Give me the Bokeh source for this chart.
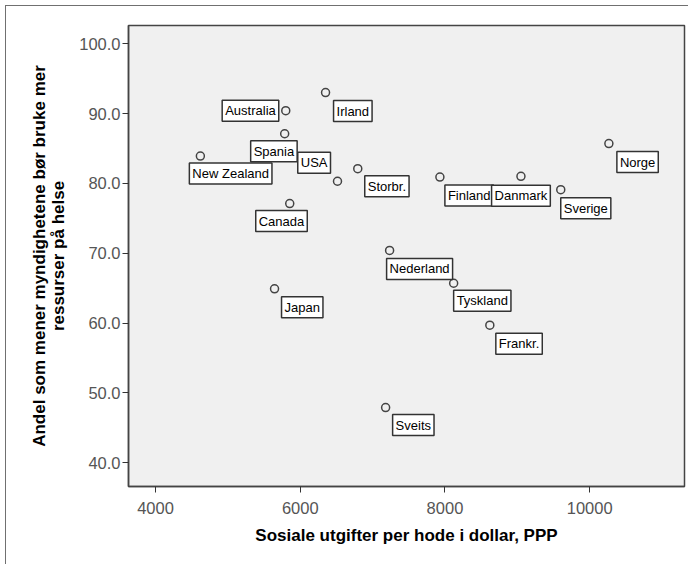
from bokeh.plotting import figure
from bokeh.models import ColumnDataSource, FixedTicker, NumeralTickFormatter, Range1d
from bokeh.core.properties import value
from bokeh.embed import file_html
from bokeh.resources import INLINE

# ---- data ----
countries = ["Irland", "Australia", "Spania", "New Zealand", "USA", "Storbr.", "Canada",
             "Finland", "Danmark", "Sverige", "Norge", "Nederland", "Japan", "Tyskland",
             "Frankr.", "Sveits"]
spending = [6350, 5800, 5785, 4620, 6515, 6795, 5855,
            7930, 9050, 9600, 10265, 7235, 5645, 8120,
            8620, 7180]
share = [93.0, 90.4, 87.1, 83.9, 80.3, 82.1, 77.1,
         80.9, 81.0, 79.1, 85.7, 70.4, 64.9, 65.7,
         59.7, 47.9]
x_ticks = [4000, 6000, 8000, 10000]
y_ticks = [40, 50, 60, 70, 80, 90, 100]

# ---- label placement (styling, screen px; dy positive = down) ----
PAD = 3
placement = {
    "Irland": ("left", "top", 5, 5),
    "Australia": ("right", "middle", -4, 0),
    "Spania": ("left", "top", -37, 4),
    "New Zealand": ("left", "top", -14, 4),
    "USA": ("right", "bottom", -4, -5),
    "Storbr.": ("left", "top", 4, 4),
    "Canada": ("left", "top", -37, 4),
    "Finland": ("left", "top", 2, 5),
    "Danmark": ("center", "top", 0, 6),
    "Sverige": ("left", "top", -3, 5),
    "Norge": ("left", "top", 5, 5),
    "Nederland": ("left", "top", -6, 5),
    "Japan": ("left", "top", 4, 5),
    "Tyskland": ("left", "top", -3, 4),
    "Frankr.": ("left", "top", 3, 5),
    "Sveits": ("left", "top", 4, 4),
}
aligns, baselines, xo, yo = [], [], [], []
for c in countries:
    a, b, dx, dy = placement[c]
    aligns.append(a)
    baselines.append(b)
    xo.append(dx + (PAD if a == "left" else (-PAD if a == "right" else 0)))
    yo.append(dy + (PAD if b == "top" else (-PAD if b == "bottom" else 0)))

src = ColumnDataSource(dict(x=spending, y=share, name=countries,
                            align=aligns, base=baselines, xo=xo, yo=yo))

p = figure(width=683, height=559, output_backend="svg", toolbar_location=None,
           x_range=Range1d(3627, 11310), y_range=Range1d(36.6, 102.6),
           min_border_left=122, min_border_right=5, min_border_top=19, min_border_bottom=79)

p.background_fill_color = "#F0F0F0"
p.border_fill_color = "white"
p.outline_line_color = "#444444"
p.outline_line_width = 1.5
p.grid.visible = False
p.styles = {"margin-left": "5px", "margin-top": "5px",
            "border-top": "1px solid #707070", "border-left": "1px solid #707070"}

p.scatter("x", "y", source=src, size=8, fill_color=None, line_color="#444444", line_width=1.5)

p.text(x="x", y="y", text="name", source=src,
       x_offset="xo", y_offset="yo", text_align="align", text_baseline="base",
       text_font=value("Liberation Sans"), text_font_size="13px", text_color="black",
       background_fill_color="white", border_line_color="#333333", border_line_width=1.5,
       padding=PAD)

for ax in (p.xaxis[0], p.yaxis[0]):
    ax.axis_line_color = "#444444"
    ax.axis_line_width = 1.5
    ax.major_tick_line_color = "#333333"
    ax.major_tick_out = 6
    ax.major_tick_in = 0
    ax.minor_tick_line_color = None
    ax.major_label_text_font = "Liberation Sans"
    ax.major_label_text_font_size = "16.5px"
    ax.major_label_text_color = "#555555"
    ax.axis_label_text_font = "Liberation Sans"
    ax.axis_label_text_font_size = "17px"
    ax.axis_label_text_font_style = "bold"
    ax.axis_label_text_color = "black"
    ax.axis_label_text_line_height = 1.0

p.xaxis[0].ticker = FixedTicker(ticks=x_ticks)
p.yaxis[0].ticker = FixedTicker(ticks=y_ticks)
p.yaxis[0].formatter = NumeralTickFormatter(format="0.0")
p.xaxis[0].axis_label = "Sosiale utgifter per hode i dollar, PPP"
p.yaxis[0].axis_label = "Andel som mener myndighetene bør bruke mer\nressurser på helse"
p.xaxis[0].major_label_standoff = 9
p.xaxis[0].axis_label_standoff = 9
p.yaxis[0].major_label_standoff = 2
p.yaxis[0].axis_label_standoff = 8

open("out.html", "w").write(file_html(p, INLINE))
